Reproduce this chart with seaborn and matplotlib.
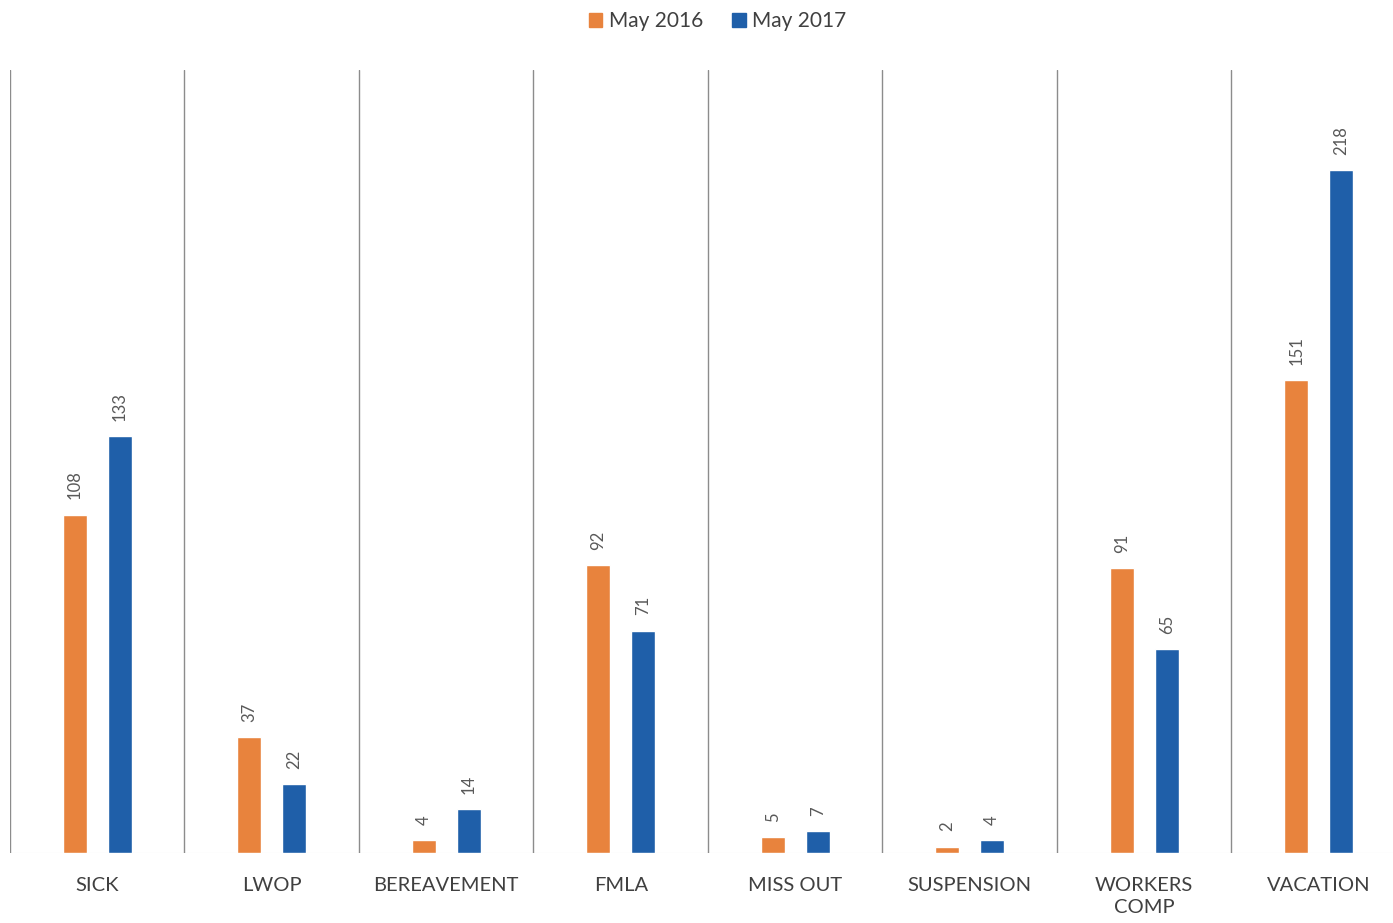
import numpy as np
import pandas as pd
import matplotlib
matplotlib.use("Agg")
import matplotlib.pyplot as plt
import seaborn as sns

categories = ["SICK", "LWOP", "BEREAVEMENT", "FMLA", "MISS OUT",
              "SUSPENSION", "WORKERS\nCOMP", "VACATION"]
may_2016 = [108, 37, 4, 92, 5, 2, 91, 151]
may_2017 = [133, 22, 14, 71, 7, 4, 65, 218]
series = ["May 2016", "May 2017"]
colors = ["#E8833D", "#1F5FA9"]

df = pd.DataFrame({
    "Category": categories * 2,
    "Count": may_2016 + may_2017,
    "Period": [series[0]] * len(categories) + [series[1]] * len(categories),
})

sns.set_theme(style="white")
plt.rcParams["font.family"] = ["Lato", "DejaVu Sans"]

fig = plt.figure(figsize=(13.93, 9.23), dpi=100)
# axes runs slightly past the right edge, like the cropped original
ax = fig.add_axes([10 / 1393, 70 / 923, 8 * 174.5 / 1393, 783 / 923])

sns.barplot(data=df, x="Category", y="Count", hue="Period", order=categories,
            hue_order=series, palette=colors, width=0.516, gap=0.467,
            errorbar=None, ax=ax, legend=False, saturation=1)

for cont in ax.containers:
    ax.bar_label(cont, rotation=90, padding=11, fontsize=12, color="#595959")

ax.set_ylim(0, 250)
ax.set_xlim(-0.5, len(categories) - 0.5)
ax.set_yticks([])
ax.set_xlabel("")
ax.set_ylabel("")
ax.set_xticks(np.arange(len(categories)))
ax.set_xticklabels(categories, fontsize=14.5, color="#404040", linespacing=1.4)
ax.tick_params(axis="x", length=0, pad=17)
ax.set_xticks(np.arange(len(categories) + 1) - 0.5, minor=True)
ax.grid(which="minor", axis="x", color="#8C8C8C", linewidth=1)
ax.grid(which="major", visible=False)
for s in ax.spines.values():
    s.set_visible(False)
ax.axhline(0, color="#E6E6E6", linewidth=0.8, zorder=0)

handles = [plt.Rectangle((0, 0), 1, 1, color=c) for c in colors]
fig.legend(handles, series, loc="upper center", bbox_to_anchor=(0.515, 1.008),
           ncol=2, frameon=False, fontsize=15, handlelength=0.65,
           handleheight=0.65, handletextpad=0.3, columnspacing=1.4,
           labelcolor="#404040")

fig.savefig("out.png", dpi=100)
